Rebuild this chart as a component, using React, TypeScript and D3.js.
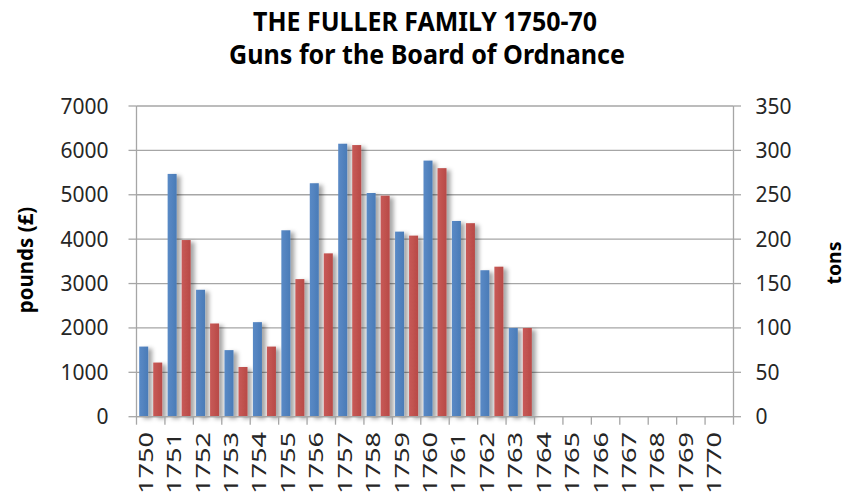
import React from "react";
import * as d3 from "d3";

const years = ["1750","1751","1752","1753","1754","1755","1756","1757","1758","1759","1760","1761","1762","1763","1764","1765","1766","1767","1768","1769","1770"];
const pounds: (number | null)[] = [1580, 5470, 2860, 1500, 2130, 4200, 5260, 6150, 5040, 4170, 5770, 4410, 3300, 2000, null, null, null, null, null, null, null];
const tons: (number | null)[] = [61, 199, 105, 56, 79, 155, 184, 306, 249, 204, 280, 218, 169, 100, null, null, null, null, null, null, null];
const leftTicks = [0, 1000, 2000, 3000, 4000, 5000, 6000, 7000];
const rightTicks = [0, 50, 100, 150, 200, 250, 300, 350];
const seriesKeys = ["pounds", "tons"];

const W = 847, H = 498;
const L = 136.5, R = 733.5, T = 106, B = 416.7;
const FONT = "'Noto Sans', 'Open Sans', sans-serif";
const AXIS = "#a6a6a6";

export default function App() {
  const x0 = d3.scaleBand<string>().domain(years).range([L, R]).paddingInner(0).paddingOuter(0);
  const bw = x0.bandwidth();
  const x1 = d3.scaleBand<string>().domain(seriesKeys).range([bw * 0.095, bw * 0.905]).paddingInner(0.357).paddingOuter(0);
  const yL = d3.scaleLinear().domain([0, 7000]).range([B, T]);
  const yR = d3.scaleLinear().domain([0, 350]).range([B, T]);
  const boundaries = years.map((y) => x0(y) as number).concat([R]);

  return (
    <svg width={W} height={H} style={{ position: "absolute", left: 0, top: 0, background: "#fff" }} fontFamily={FONT}>
      <defs>
        <filter id="sh" x="-50%" y="-10%" width="250%" height="130%">
          <feDropShadow dx="4" dy="2" stdDeviation="2" floodColor="#000" floodOpacity="0.35" />
        </filter>
        <linearGradient id="gb" x1="0" x2="1" y1="0" y2="0">
          <stop offset="0" stopColor="#5a8ac6" />
          <stop offset="1" stopColor="#4a7bb7" />
        </linearGradient>
        <linearGradient id="gr" x1="0" x2="1" y1="0" y2="0">
          <stop offset="0" stopColor="#c85a57" />
          <stop offset="1" stopColor="#b84a47" />
        </linearGradient>
      </defs>

      {/* Title */}
      <text x={425} y={31} textAnchor="middle" fontWeight="bold" fontSize={26} fill="#000" textLength={344} lengthAdjust="spacingAndGlyphs">THE FULLER FAMILY 1750-70</text>
      <text x={427} y={64} textAnchor="middle" fontWeight="bold" fontSize={26} fill="#000" textLength={396} lengthAdjust="spacingAndGlyphs">Guns for the Board of Ordnance</text>

      {/* gridlines */}
      {leftTicks.map((t) => (
        <line key={"g" + t} x1={L} x2={R} y1={yL(t)} y2={yL(t)} stroke={AXIS} strokeWidth={1.3} />
      ))}

      {/* bars */}
      <g filter="url(#sh)">
        {years.map((yr, i) => {
          const bx = x0(yr) as number;
          const p = pounds[i];
          const t = tons[i];
          return (
            <g key={yr}>
              {p != null && (
                <rect x={bx + (x1("pounds") as number)} y={yL(p)} width={x1.bandwidth()} height={B - yL(p)} fill="url(#gb)" />
              )}
              {t != null && (
                <rect x={bx + (x1("tons") as number)} y={yR(t)} width={x1.bandwidth()} height={B - yR(t)} fill="url(#gr)" />
              )}
            </g>
          );
        })}
      </g>

      {/* axes */}
      <line x1={L} x2={L} y1={T} y2={B} stroke={AXIS} strokeWidth={1.3} />
      <line x1={R} x2={R} y1={T} y2={B} stroke={AXIS} strokeWidth={1.3} />
      <line x1={L} x2={R} y1={B} y2={B} stroke={AXIS} strokeWidth={1.3} />
      {leftTicks.map((t) => (
        <g key={"l" + t}>
          <line x1={L - 8} x2={L} y1={yL(t)} y2={yL(t)} stroke={AXIS} strokeWidth={1.3} />
          <text x={108.5} y={yL(t)} dy="0.36em" textAnchor="end" fontSize={21} fill="#262626">{t}</text>
        </g>
      ))}
      {rightTicks.map((t) => (
        <g key={"r" + t}>
          <line x1={R} x2={R + 7.5} y1={yR(t)} y2={yR(t)} stroke={AXIS} strokeWidth={1.3} />
          <text x={755.5} y={yR(t)} dy="0.36em" textAnchor="start" fontSize={21} fill="#262626">{t}</text>
        </g>
      ))}
      {boundaries.map((bx, i) => (
        <line key={"xt" + i} x1={bx} x2={bx} y1={B} y2={B + 8} stroke={AXIS} strokeWidth={1.3} />
      ))}
      {years.map((yr) => {
        const cx = (x0(yr) as number) + bw / 2;
        return (
          <text key={"xl" + yr} transform={`translate(${cx + 2},${432}) rotate(-90)`} textAnchor="end" fontSize={20} fill="#262626" textLength={62} lengthAdjust="spacingAndGlyphs">{yr}</text>
        );
      })}

      {/* axis titles */}
      <text transform={`translate(33,260) rotate(-90)`} textAnchor="middle" fontWeight="bold" fontSize={20.5} fill="#000">pounds (£)</text>
      <text transform={`translate(841,263) rotate(-90)`} textAnchor="middle" fontWeight="bold" fontSize={19.5} fill="#000">tons</text>
    </svg>
  );
}
